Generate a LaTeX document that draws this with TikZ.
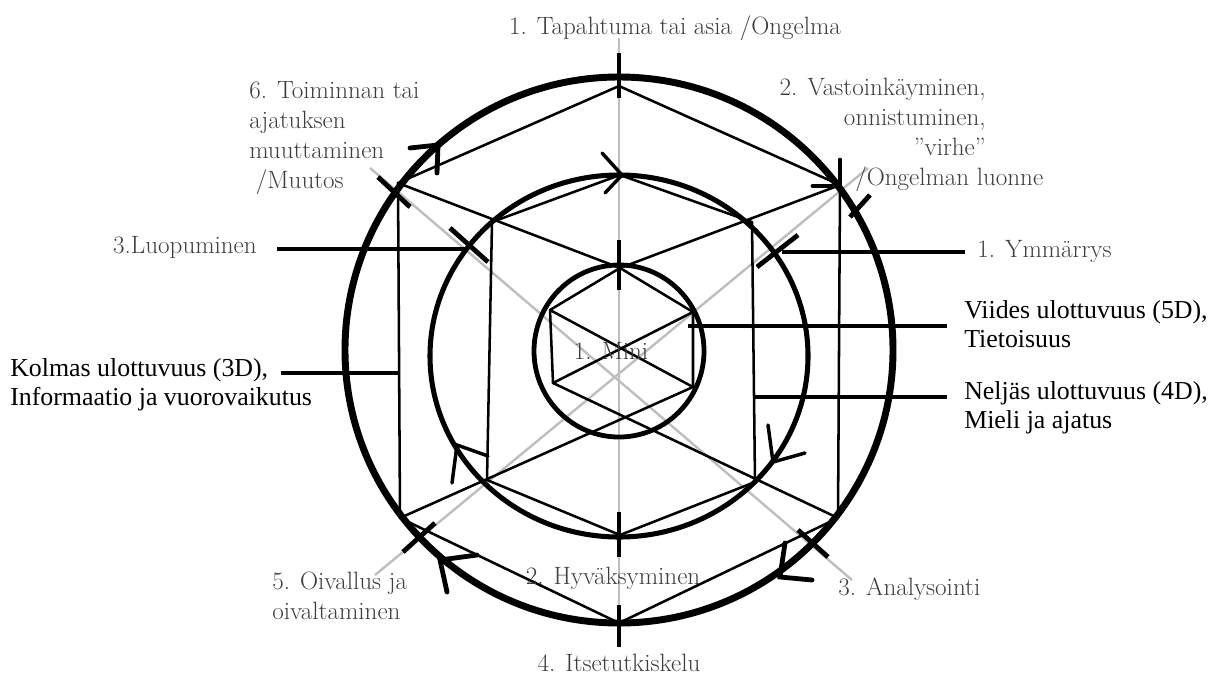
\documentclass[tikz,border=0pt]{standalone}
\usepackage{fontspec}
\newfontfamily\tnrfont{Liberation Serif}
\definecolor{labgray}{RGB}{62,62,62}
\definecolor{axisgray}{RGB}{190,190,190}
\begin{document}
\begin{tikzpicture}[x=0.75pt,y=-0.75pt,
  hexline/.style={line width=1.9pt, line cap=round, line join=round},
  axisline/.style={axisgray, line width=1.8pt},
  axbar/.style={line width=3.6pt},
  outerbarb/.style={line width=3.6pt, line cap=round, line join=miter},
  midbarb/.style={line width=2.6pt, line cap=round, line join=miter},
  thinleader/.style={line width=2.3pt},
  thickleader/.style={line width=3.4pt},
  glab/.style={labgray, font=\fontsize{18.8}{22.5}\selectfont, inner sep=0pt},
  blab/.style={black, font=\tnrfont\fontsize{19.4}{21.4}\selectfont, inner sep=0pt},
]
\useasboundingbox (0,0) rectangle (1216,686);

% vertices
\coordinate (C) at (619,350);
\coordinate (OT) at (619,86);   \coordinate (OUR) at (840,185); \coordinate (OLR) at (838,518);
\coordinate (OB) at (619,623);  \coordinate (OLL) at (400,518); \coordinate (OUL) at (398,183);
\coordinate (MT) at (620,175);  \coordinate (MUR) at (752,222); \coordinate (MLR) at (755,482);
\coordinate (MB) at (620,535);  \coordinate (MLL) at (487,480); \coordinate (MUL) at (492,222);
\coordinate (IT) at (620,268);  \coordinate (IUR) at (693,312); \coordinate (ILR) at (693,387);
\coordinate (IB) at (620,418);  \coordinate (ILL) at (553,383); \coordinate (IUL) at (550,310);

% gray axes
\coordinate (AxT) at (619,38);  \coordinate (AxB) at (619,645);
\coordinate (AxUL) at (370,168); \coordinate (AxLR) at (852,580);
\coordinate (AxUR) at (868,168); \coordinate (AxLL) at (375,575);
\draw[axisline] (AxT) -- (AxB);
\draw[axisline] (AxUL) -- (AxLR);
\draw[axisline] (AxLL) -- (AxUR);

% hexagon / cube lines
\draw[hexline] (OLL) -- (OUL) -- (OT) -- (OUR) -- (OLR) -- (OB) -- cycle;
\draw[hexline] (MUL) -- (MT) -- (MUR) -- (MLR) -- (MB) -- (MLL) -- cycle;
\draw[hexline] (OUL) -- (IT) -- (OUR);
\draw[hexline] (OLL) -- (ILR);
\draw[hexline] (OLR) -- (ILL);
\draw[hexline] (ILL) -- (IUL) -- (IT) -- (IUR) -- (ILR);
\draw[hexline] (IUL) -- (ILR);
\draw[hexline] (ILL) -- (IUR);

% circles
\draw[line width=5.2pt] (C) ellipse [x radius=274, y radius=273];
\draw[line width=3.8pt] (619,356) ellipse [x radius=189, y radius=181];
\draw[line width=3.6pt] (619,351) ellipse [x radius=85, y radius=86];

% radial bars on the axes
\draw[axbar] (619,53) -- (619,98);
\draw[axbar] (619,240) -- (619,290);
\draw[axbar] (619,512) -- (619,557);
\draw[axbar] (619,605) -- (619,647);
\draw[axbar] (378,177) -- (410,207);
\draw[axbar] (450,228) -- (488,262);
\draw[axbar] (757,267) -- (798,235);
\draw[axbar] (850,217) -- (870,195);
\draw[axbar] (403,552) -- (435,523);
\draw[axbar] (798,530) -- (828,557);

% direction arrows on outer circle
\draw[outerbarb] (410,148) -- (438,145) -- (437,173);
\draw[outerbarb] (813,186) -- (840,186) -- (840,160);
\draw[outerbarb] (812,580) -- (780,577) -- (785,543);
\draw[outerbarb] (477,555) -- (440,560) -- (447,592);
% direction arrows on middle circle
\draw[midbarb] (602,153) -- (622,175) -- (605,193);
\draw[midbarb] (768,425) -- (773,462) -- (805,453);
\draw[midbarb] (452,483) -- (457,445) -- (488,456);

% labels (gray); base anchor of a multi-line node = its last line
\node[glab, anchor=base] (tapahtuma) at (675,34) {1. Tapahtuma tai asia /Ongelma};
\node[glab, anchor=base west, align=left] (muutos) at (249,188) {6. Toiminnan tai\\ajatuksen\\muuttaminen\\\hspace*{5pt}/Muutos};
\node[glab, anchor=base east, align=right] (vastoin) at (986,155) {2. Vastoinkäyminen,\\onnistuminen,\\"virhe"};
\node[glab, anchor=base west] (luonne) at (855,185) {/Ongelman luonne};
\node[glab, anchor=base east] (luop) at (257,253) {3.Luopuminen};
\node[glab, anchor=base west] (ymm) at (977,257) {1. Ymmärrys};
\node[glab, anchor=base] (mini) at (611,359) {1. Mini};
\node[glab, anchor=base] (hyv) at (613,584) {2. Hyväksyminen};
\node[glab, anchor=base west, align=left] (oiv) at (272,619) {5. Oivallus ja\\oivaltaminen};
\node[glab, anchor=base west] (anal) at (838,595) {3. Analysointi};
\node[glab, anchor=base] (itse) at (619,671) {4. Itsetutkiskelu};

% labels (black)
\node[blab, anchor=base west, align=left] (viides) at (964,347) {Viides ulottuvuus (5D),\\Tietoisuus};
\node[blab, anchor=base west, align=left] (neljas) at (964,428) {Neljäs ulottuvuus (4D),\\Mieli ja ajatus};
\node[blab, anchor=base west, align=left] (kolmas) at (10,405) {Kolmas ulottuvuus (3D),\\Informaatio ja vuorovaikutus};

% leaders
\coordinate (luopA) at (277,249);  \coordinate (luopB) at (468,249);
\coordinate (ymmA) at (782,252);   \coordinate (ymmB) at (965,252);
\coordinate (viiA) at (688,326);   \coordinate (viiB) at (947,326);
\coordinate (nelA) at (753,397);   \coordinate (nelB) at (947,397);
\coordinate (kolA) at (281,373);   \coordinate (kolB) at (400,373);
\draw[thinleader] (luopA) -- (luopB);
\draw[thinleader] (ymmA) -- (ymmB);
\draw[thickleader] (viiA) -- (viiB);
\draw[thickleader] (nelA) -- (nelB);
\draw[thickleader] (kolA) -- (kolB);
\end{tikzpicture}
\end{document}
